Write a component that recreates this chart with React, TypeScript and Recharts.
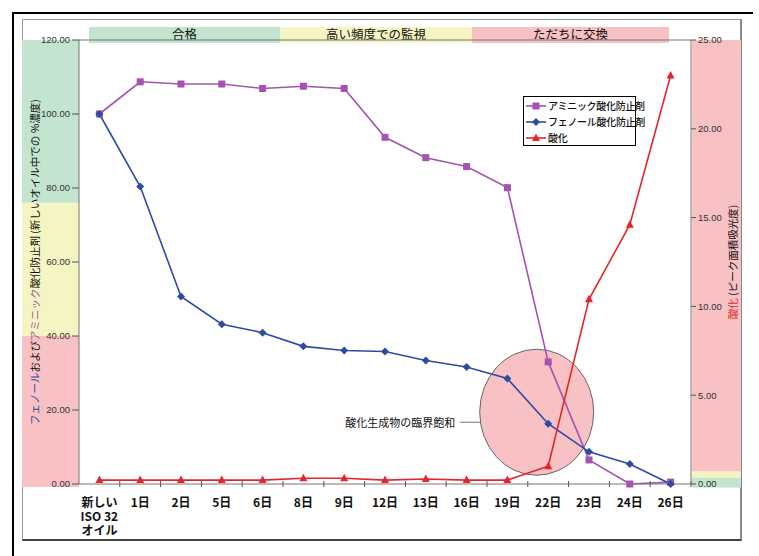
import React from 'react';
import {
  ComposedChart,
  Line,
  XAxis,
  YAxis,
  ReferenceArea,
  ReferenceDot,
  ReferenceLine,
} from 'recharts';

// sampling points (days of service)
const days = [
  '新しい\nISO 32\nオイル',
  '1日', '2日', '5日', '6日', '8日', '9日', '12日',
  '13日', '16日', '19日', '22日', '23日', '24日', '26日',
];

// % of new-oil concentration (left axis)
const aminic = [100, 108.7, 108.1, 108.1, 106.9, 107.5, 106.9, 93.7, 88.2, 85.8, 80.1, 33.0, 6.5, 0, 0.5];
const phenolic = [100, 80.4, 50.7, 43.2, 40.9, 37.2, 36.1, 35.8, 33.4, 31.6, 28.5, 16.3, 8.7, 5.4, 0];

// oxidation, peak area absorbance (right axis)
const oxidation = [0.22, 0.22, 0.22, 0.22, 0.22, 0.32, 0.32, 0.22, 0.28, 0.22, 0.22, 1.0, 10.4, 14.6, 23.0];

const seriesNames = ['アミニック酸化防止剤', 'フェノール酸化防止剤', '酸化'];
const headerZones = ['合格', '高い頻度での監視', 'ただちに交換'];

// zone limits: green / yellow / red on the left, red / yellow / green on the right
const leftZoneLimits = [120, 76, 40, -0.8];
const rightZoneLimits = [25, 0.7, 0.35, -0.2];

const leftTicks = [0, 20, 40, 60, 80, 100, 120];
const rightTicks = [0, 5, 10, 15, 20, 25];

const annotation = '酸化生成物の臨界飽和';
const annotationAt = { day: '22日', value: 19.4 };

const PURPLE = '#a453b0';
const BLUE = '#2c4ca4';
const RED = '#e3262b';
const Z_GREEN = '#c3e4cf';
const Z_YELLOW = '#f5f5c3';
const Z_RED = '#f8c1c4';

const JP = '"Noto Sans CJK JP", "Noto Sans", sans-serif';
const NUM = '"Liberation Sans", Arial, sans-serif';

const data = days.map((day, i) => ({
  day,
  aminic: aminic[i],
  phenolic: phenolic[i],
  oxidation: oxidation[i],
}));

const square = (cx: number, cy: number, key?: any) => (
  <rect key={key} x={cx - 3.5} y={cy - 3.5} width={7} height={7} fill={PURPLE} />
);
const diamond = (cx: number, cy: number, key?: any) => (
  <polygon key={key} points={`${cx},${cy - 4} ${cx + 4},${cy} ${cx},${cy + 4} ${cx - 4},${cy}`} fill={BLUE} />
);
const triangle = (cx: number, cy: number, key?: any) => (
  <polygon key={key} points={`${cx},${cy - 4.5} ${cx + 4},${cy + 3} ${cx - 4},${cy + 3}`} fill={RED} />
);

const markers = [square, diamond, triangle];
const colors = [PURPLE, BLUE, RED];

const dotOf = (i: number) => (p: any) =>
  p.cx == null || p.cy == null ? <g key={p.index} /> : markers[i](p.cx, p.cy, p.index);

const DayTick = (props: any) => {
  const { x, y, payload } = props;
  const half = payload.offset || 20.4;
  const lines = String(payload.value).split('\n');
  return (
    <g>
      <line x1={x + half} x2={x + half} y1={y - 3} y2={y + 3} stroke="#555" />
      <text x={x} y={y + 23} textAnchor="middle" fontSize={12} fontWeight={700} fill="#111" fontFamily={JP}>
        {lines.map((l, i) => (
          <tspan key={i} x={x} dy={i === 0 ? 0 : 14}>{l}</tspan>
        ))}
      </text>
    </g>
  );
};

const LeftTitle = (props: any) => {
  const cx = 34;
  const cy = (props.viewBox?.y ?? 39) + (props.viewBox?.height ?? 445) / 2;
  return (
    <text transform={`translate(${cx},${cy}) rotate(-90)`} textAnchor="middle" dominantBaseline="central" fontSize={10.5} fontFamily={JP}>
      <tspan fill={BLUE}>フェノール</tspan>
      <tspan fill="#111">および</tspan>
      <tspan fill={PURPLE}>アミニック</tspan>
      <tspan fill="#111">酸化防止剤 (新しいオイル中での %濃度)</tspan>
    </text>
  );
};

const RightTitle = (props: any) => {
  const cx = 732;
  const cy = (props.viewBox?.y ?? 39) + (props.viewBox?.height ?? 445) / 2;
  return (
    <text transform={`translate(${cx},${cy}) rotate(-90)`} textAnchor="middle" dominantBaseline="central" fontSize={10.5} fontFamily={JP}>
      <tspan fill={RED}>酸化</tspan>
      <tspan fill="#111"> (ピーク面積吸光度)</tspan>
    </text>
  );
};

const strip = (x: number, w: number, fill: string) => (p: any) => (
  <rect x={x} y={p.y} width={w} height={p.height} fill={fill} />
);

const LegendBox = () => (
  <div
    style={{
      position: 'absolute',
      left: 523,
      top: 96,
      border: '1px solid #000',
      background: '#fff',
      width: 113,
      height: 50,
      padding: '1px 0 0 1px',
      fontFamily: JP,
      fontSize: 10,
      fontWeight: 500,
      color: '#111',
      lineHeight: '16px',
      boxSizing: 'border-box',
    }}
  >
    {seriesNames.map((name, i) => (
      <div key={name} style={{ display: 'flex', alignItems: 'center', height: 16 }}>
        <svg width={23} height={10} style={{ flex: 'none' }}>
          <line x1={1} x2={21} y1={5} y2={5} stroke={colors[i]} strokeWidth={1.6} />
          {markers[i](11, 5)}
        </svg>
        <span style={{ whiteSpace: 'nowrap', letterSpacing: -0.3 }}>{name}</span>
      </div>
    ))}
  </div>
);

const headerPos = [
  { left: 89, width: 191, fill: Z_GREEN },
  { left: 280, width: 192, fill: Z_YELLOW },
  { left: 472, width: 197, fill: Z_RED },
];

export default function App() {
  const leftFills = [Z_GREEN, Z_YELLOW, Z_RED];
  const rightFills = [Z_RED, Z_YELLOW, Z_GREEN];
  return (
    <div style={{ position: 'absolute', left: 0, top: 0, width: 759, height: 556, background: '#fff' }}>
      {/* page frame */}
      <div style={{ position: 'absolute', left: 12, top: 12, width: 741, height: 2, background: '#000' }} />
      <div style={{ position: 'absolute', left: 12, top: 12, width: 2, height: 544, background: '#000' }} />
      <div
        style={{
          position: 'absolute',
          left: 22,
          top: 19,
          width: 720,
          height: 522,
          borderTop: '1px solid #999',
          borderLeft: '1px solid #999',
          borderRight: '2px solid #888',
          borderBottom: '2px solid #444',
          boxSizing: 'border-box',
        }}
      />
      {headerPos.map((h, i) => (
        <div
          key={i}
          style={{
            position: 'absolute',
            left: h.left,
            top: 27,
            width: h.width,
            height: 16,
            background: h.fill,
            fontFamily: JP,
            fontSize: 12.5,
            color: '#111',
            textAlign: 'center',
            lineHeight: '14px',
          }}
        >
          {headerZones[i]}
        </div>
      ))}
      <div style={{ position: 'absolute', left: 0, top: 0 }}>
        <ComposedChart width={759} height={556} data={data} margin={{ top: 40, left: 29, right: 18, bottom: 22 }}>
          {leftFills.map((f, i) => (
            <ReferenceArea
              key={'l' + i}
              yAxisId="left"
              y1={leftZoneLimits[i + 1]}
              y2={leftZoneLimits[i]}
              ifOverflow="visible"
              shape={strip(22, 57, f)}
            />
          ))}
          {rightFills.map((f, i) => (
            <ReferenceArea
              key={'r' + i}
              yAxisId="right"
              y1={rightZoneLimits[i + 1]}
              y2={rightZoneLimits[i]}
              ifOverflow="visible"
              shape={strip(692, 49, f)}
            />
          ))}
          <ReferenceLine yAxisId="left" y={120} stroke="#777" ifOverflow="visible" />
          <ReferenceDot
            yAxisId="left"
            x={annotationAt.day}
            y={annotationAt.value}
            ifOverflow="visible"
            zIndex={-50}
            shape={(p: any) => (
              <g>
                <ellipse cx={p.cx - 11.5} cy={p.cy} rx={57} ry={63} fill={Z_RED} stroke="#666" strokeWidth={1} />
                <line x1={p.cx - 88} x2={p.cx - 68} y1={p.cy + 10} y2={p.cy + 10} stroke="#777" />
                <text x={p.cx - 93} y={p.cy + 10} textAnchor="end" dominantBaseline="central" fontSize={11} fontFamily={JP} fill="#111">
                  {annotation}
                </text>
              </g>
            )}
          />
          <XAxis
            dataKey="day"
            scale="band"
            interval={0}
            tickLine={false}
            tickSize={0}
            tickMargin={0}
            height={50}
            axisLine={{ stroke: '#777' }}
            tick={<DayTick />}
          />
          <YAxis
            yAxisId="left"
            domain={[0, 120]}
            ticks={leftTicks}
            tickFormatter={(v: number) => v.toFixed(2)}
            width={50}
            tickSize={7}
            tickMargin={2}
            axisLine={{ stroke: '#777' }}
            tickLine={{ stroke: '#555' }}
            tick={{ fontSize: 9.5, fill: '#333', fontFamily: NUM }}
            label={{ content: <LeftTitle /> }}
          />
          <YAxis
            yAxisId="right"
            orientation="right"
            domain={[0, 25]}
            ticks={rightTicks}
            tickFormatter={(v: number) => v.toFixed(2)}
            width={50}
            tickSize={5}
            tickMargin={2}
            axisLine={{ stroke: '#777' }}
            tickLine={{ stroke: '#555' }}
            tick={{ fontSize: 9.5, fill: '#333', fontFamily: NUM }}
            label={{ content: <RightTitle /> }}
          />
          <Line
            yAxisId="left"
            dataKey="aminic"
            name={seriesNames[0]}
            stroke={PURPLE}
            strokeWidth={1.6}
            dot={dotOf(0)}
            activeDot={false}
            isAnimationActive={false}
          />
          <Line
            yAxisId="left"
            dataKey="phenolic"
            name={seriesNames[1]}
            stroke={BLUE}
            strokeWidth={1.6}
            dot={dotOf(1)}
            activeDot={false}
            isAnimationActive={false}
          />
          <Line
            yAxisId="right"
            dataKey="oxidation"
            name={seriesNames[2]}
            stroke={RED}
            strokeWidth={1.6}
            dot={dotOf(2)}
            activeDot={false}
            isAnimationActive={false}
          />
        </ComposedChart>
      </div>
      <LegendBox />
    </div>
  );
}
